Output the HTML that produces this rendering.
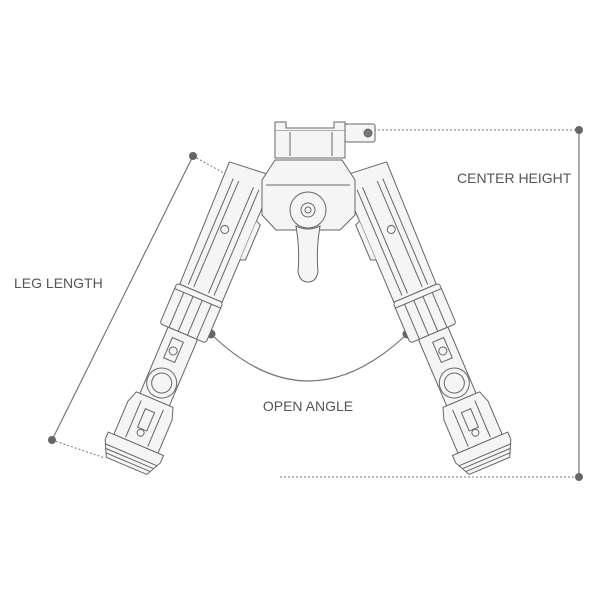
<!DOCTYPE html>
<html><head><meta charset="utf-8"><style>
html,body{margin:0;padding:0;background:#fff}
svg{display:block}
text{font-family:"Liberation Sans",sans-serif;fill:#555;font-size:14px}
</style></head><body>
<svg width="600" height="600" viewBox="0 0 600 600" xmlns="http://www.w3.org/2000/svg">
<defs>
<g id="leg" fill="#f5f5f5" stroke="#666" stroke-width="1">
  <path d="M-24,-4 L20,-8 L24,0 L24,128 L-22,128 L-24,0 Z"/>
  <line x1="-14" y1="10" x2="-14" y2="125"/>
  <line x1="-8" y1="10" x2="-8" y2="125"/>
  <line x1="8" y1="10" x2="8" y2="125"/>
  <line x1="14" y1="10" x2="14" y2="125"/>
  <circle cx="-2" cy="60" r="4"/>
  <path d="M24,40 L29,42 L29,80 L24,82" />
  <rect x="-25" y="128" width="50" height="44" rx="3"/>
  <line x1="-25" y1="134" x2="25" y2="134"/>
  <line x1="-15" y1="134" x2="-15" y2="172"/>
  <line x1="-5" y1="134" x2="-5" y2="172"/>
  <line x1="5" y1="134" x2="5" y2="172"/>
  <line x1="15" y1="134" x2="15" y2="172"/>
  <rect x="-16" y="172" width="32" height="72"/>
  <rect x="-8" y="180" width="12" height="22"/>
  <circle cx="-2" cy="192" r="4"/>
  <circle cx="0" cy="226" r="15"/>
  <circle cx="0" cy="226" r="10"/>
  <path d="M-20,244 L20,244 L24,256 L24,292 L-24,292 L-24,256 Z"/>
  <line x1="-12" y1="250" x2="-12" y2="290"/>
  <line x1="12" y1="250" x2="12" y2="290"/>
  <rect x="-5" y="256" width="10" height="20"/>
  <circle cx="0" cy="280" r="3.5"/>
  <path d="M-30,292 L30,292 L30,300 L22,316 L-22,316 L-30,300 Z"/>
  <line x1="-28" y1="304" x2="28" y2="304"/>
  <line x1="-26" y1="308" x2="26" y2="308"/>
  <line x1="-24" y1="312" x2="24" y2="312"/>
</g>
</defs>

<g stroke="#777" fill="none">
  <line x1="193" y1="156" x2="52" y2="440" stroke-width="1.2"/>
  <line x1="193" y1="156" x2="240" y2="182" stroke-dasharray="2,2"/>
  <line x1="52" y1="440" x2="105" y2="458" stroke-dasharray="2,2"/>
  <line x1="579" y1="130" x2="579" y2="477" stroke-width="1.2"/>
  <line x1="370" y1="130" x2="579" y2="130" stroke-dasharray="2,2"/>
  <line x1="280" y1="477" x2="579" y2="477" stroke-dasharray="2,2"/>
  <path d="M211,334 Q308,428 407,334" stroke-width="1.2"/>
</g>
<g fill="#666">
  <circle cx="193" cy="156" r="4"/><circle cx="52" cy="440" r="4"/>
  <circle cx="579" cy="130" r="4"/><circle cx="579" cy="477" r="4"/>
  <circle cx="211" cy="334" r="4.5"/><circle cx="407" cy="334" r="4.5"/>
</g>

<use href="#leg" transform="translate(250,175) rotate(23)"/>
<use href="#leg" transform="translate(366,175) rotate(-23) scale(-1,1)"/>

<g fill="#f5f5f5" stroke="#666" stroke-width="1">
  <path d="M262,180 L275,160 L342,160 L355,180 L355,215 L340,230 L276,230 L262,215 Z"/>
  <path d="M266,185 L350,185"/>
  <circle cx="308" cy="210" r="18"/>
  <circle cx="308" cy="210" r="7"/>
  <circle cx="308" cy="210" r="3"/>
  <path d="M296,226 Q300,250 298,272 Q300,282 308,282 Q316,282 318,272 Q316,250 320,226 Q308,232 296,226 Z"/>
  <rect x="275" y="130" width="70" height="28"/>
  <path d="M275,130 L275,122 L286,122 L286,128 L334,128 L334,122 L345,122 L345,130"/>
  <line x1="290" y1="132" x2="290" y2="156"/>
  <line x1="332" y1="132" x2="332" y2="156"/>
  <rect x="345" y="124" width="30" height="18" rx="2"/>
  <circle cx="368" cy="133" r="4" fill="#777"/>
</g>

<text x="14" y="288">LEG LENGTH</text>
<text x="457" y="183">CENTER HEIGHT</text>
<text x="308" y="411" text-anchor="middle">OPEN ANGLE</text>
</svg>
</body></html>
